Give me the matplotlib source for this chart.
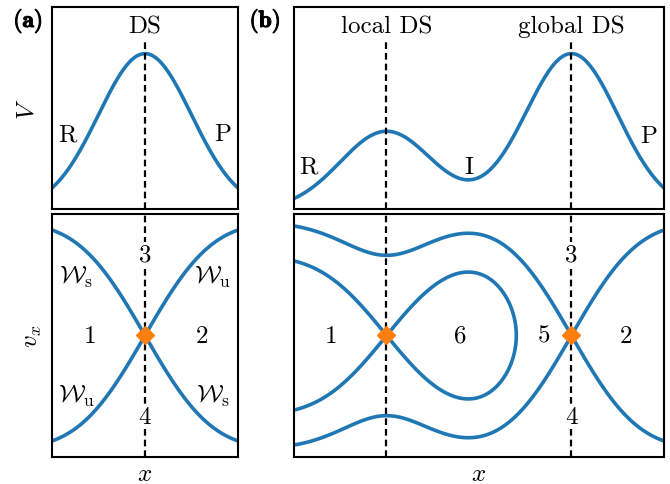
import numpy as np
import matplotlib
matplotlib.use('Agg')
import matplotlib.pyplot as plt
import matplotlib.patheffects as pe

plt.rcParams['font.family'] = 'serif'
plt.rcParams['font.serif'] = ['cmr10']
plt.rcParams['mathtext.fontset'] = 'cm'
plt.rcParams['axes.unicode_minus'] = False

# Data: model potential = sum of gaussian barriers
# panel (a): one barrier
xlim_a = [-2.0, 2.0]
barrier_pos_a = [0.0]
barrier_height_a = [1.0]
# panel (b): local + global barrier
xlim_b = [0.0, 8.0]
barrier_pos_b = [2.0, 6.0]
barrier_height_b = [0.5, 1.0]
barrier_width = 1.0
# right end of the region where each separatrix is drawn
sep_xmax_a = [2.0]
sep_xmax_b = [5.5, 8.0]

V_lim = [0.0, 1.3]
v_lim = [-1.515, 1.515]

blue = '#1f77b4'
orange = '#ff7f0e'
fs = 18
dash = (0, (3.0, 1.8))
white = dict(fc='white', ec='none', pad=0.5)


def potential(x, pos, height):
    V = np.zeros_like(x)
    for p, h in zip(pos, height):
        V += h * np.exp(-(x - p) ** 2 / (2 * barrier_width ** 2))
    return V


fig = plt.figure(figsize=(6.7, 4.85), dpi=100)
ax_a1 = fig.add_axes([0.0776, 0.567, 0.2776, 0.4165])
ax_a2 = fig.add_axes([0.0776, 0.0557, 0.2776, 0.501])
ax_b1 = fig.add_axes([0.4388, 0.567, 0.5522, 0.4165])
ax_b2 = fig.add_axes([0.4388, 0.0557, 0.5522, 0.501])

for ax, xl, pos, height in [(ax_a1, xlim_a, barrier_pos_a, barrier_height_a),
                            (ax_b1, xlim_b, barrier_pos_b, barrier_height_b)]:
    x = np.linspace(xl[0], xl[1], 600)
    ax.plot(x, potential(x, pos, height), color=blue, lw=2.6)
    for p in pos:
        ax.plot([p, p], [V_lim[0], 1.075], color='k', lw=1.6, ls=dash)
    ax.set_xlim(xl)
    ax.set_ylim(V_lim)

for ax, xl, pos, height, xmax in [(ax_a2, xlim_a, barrier_pos_a, barrier_height_a, sep_xmax_a),
                                  (ax_b2, xlim_b, barrier_pos_b, barrier_height_b, sep_xmax_b)]:
    x = np.linspace(xl[0], xl[1], 900)
    v = np.linspace(v_lim[0], v_lim[1], 700)
    X, Vx = np.meshgrid(x, v)
    H = 0.5 * Vx ** 2 + potential(X, pos, height)
    for p in pos:
        ax.axvline(p, color='k', lw=1.6, ls=dash, zorder=1)
    for p, xm in zip(pos, xmax):
        E = potential(np.array([p], dtype=float), pos, height)[0]
        Hm = np.where(X <= xm, H, np.nan)
        ax.contour(X, Vx, Hm, levels=[E], colors=blue, linewidths=2.6, zorder=2)
    ax.plot(pos, np.zeros(len(pos)), ls='none', marker='D', ms=9,
            color=orange, zorder=3)
    ax.set_xlim(xl)
    ax.set_ylim(v_lim)

for ax in [ax_a1, ax_a2, ax_b1, ax_b2]:
    ax.set_xticks([])
    ax.set_yticks([])
    for s in ax.spines.values():
        s.set_linewidth(1.5)

# texts panel (a)
ax_a1.text(0, 1.178, 'DS', ha='center', va='center', fontsize=fs)
ax_a1.text(-1.66, 0.48, 'R', ha='center', va='center', fontsize=fs)
ax_a1.text(1.68, 0.48, 'P', ha='center', va='center', fontsize=fs)
ax_a2.text(0, 1.016, '3', ha='center', va='center', fontsize=fs, bbox=white, zorder=4)
ax_a2.text(0, -1.016, '4', ha='center', va='center', fontsize=fs, bbox=white, zorder=4)
ax_a2.text(-1.18, 0, '1', ha='center', va='center', fontsize=fs)
ax_a2.text(1.23, 0, '2', ha='center', va='center', fontsize=fs)
ax_a2.text(-1.48, 0.74, r'$\mathcal{W}_\mathrm{s}$', ha='center', va='center', fontsize=fs)
ax_a2.text(1.46, 0.74, r'$\mathcal{W}_\mathrm{u}$', ha='center', va='center', fontsize=fs)
ax_a2.text(-1.48, -0.75, r'$\mathcal{W}_\mathrm{u}$', ha='center', va='center', fontsize=fs)
ax_a2.text(1.46, -0.75, r'$\mathcal{W}_\mathrm{s}$', ha='center', va='center', fontsize=fs)

# texts panel (b)
ax_b1.text(2, 1.178, 'local DS', ha='center', va='center', fontsize=fs)
ax_b1.text(6, 1.178, 'global DS', ha='center', va='center', fontsize=fs)
ax_b1.text(0.32, 0.277, 'R', ha='center', va='center', fontsize=fs)
ax_b1.text(3.78, 0.27, 'I', ha='center', va='center', fontsize=fs)
ax_b1.text(7.66, 0.47, 'P', ha='center', va='center', fontsize=fs)
ax_b2.text(0.8, 0, '1', ha='center', va='center', fontsize=fs)
ax_b2.text(3.59, 0, '6', ha='center', va='center', fontsize=fs)
ax_b2.text(5.4, 0, '5', ha='center', va='center', fontsize=fs)
ax_b2.text(7.18, 0, '2', ha='center', va='center', fontsize=fs)
ax_b2.text(6, 1.016, '3', ha='center', va='center', fontsize=fs, bbox=white, zorder=4)
ax_b2.text(6, -1.016, '4', ha='center', va='center', fontsize=fs, bbox=white, zorder=4)

ax_a1.set_ylabel(r'$V$', fontsize=fs, labelpad=10)
ax_a2.set_ylabel(r'$v_x$', fontsize=fs, labelpad=6)
ax_a2.set_xlabel(r'$x$', fontsize=fs, labelpad=4)
ax_b2.set_xlabel(r'$x$', fontsize=fs, labelpad=4)

bold = [pe.withStroke(linewidth=0.8, foreground='k')]
fig.text(28 / 670, 1 - 22 / 485, r'$\mathbf{(a)}$', ha='center', va='center',
         fontsize=17, path_effects=bold)
fig.text(265 / 670, 1 - 22 / 485, r'$\mathbf{(b)}$', ha='center', va='center',
         fontsize=17, path_effects=bold)

fig.savefig('out.png', dpi=100)
